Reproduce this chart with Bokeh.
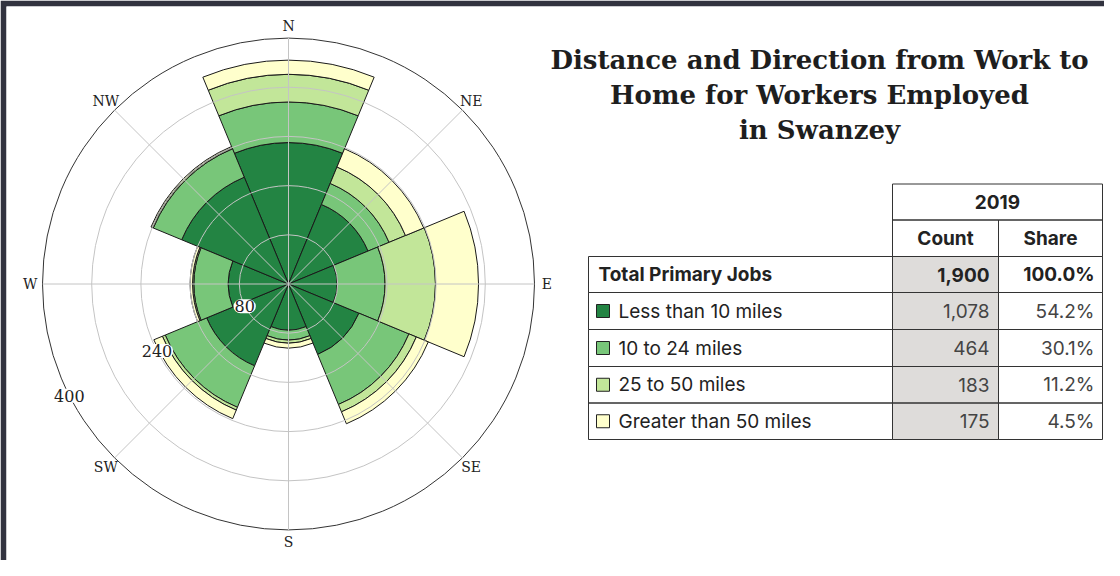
import numpy as np
from bokeh.plotting import figure
from bokeh.models import ColumnDataSource, Range1d
from bokeh.embed import file_html
from bokeh.resources import INLINE
from bokeh.core.properties import value

# ---------------- data ----------------
directions = ["N", "NE", "E", "SE", "S", "SW", "W", "NW"]
bearings = [0, 45, 90, 135, 180, 225, 270, 315]
categories = ["Less than 10 miles", "10 to 24 miles", "25 to 50 miles", "Greater than 50 miles"]
less_than_10 = [230, 140, 79, 124, 75, 144, 98, 188]
from_10_to_24 = [66, 37, 78, 88, 16, 73, 56, 50]
from_25_to_50 = [45, 29, 82, 13, 5, 5, 2, 2]
over_50 = [23, 32, 70, 21, 8, 15, 4, 2]
colors = ["#238443", "#78c679", "#c2e699", "#ffffcc"]
radial_grid = [80, 160, 240, 320]
radial_max = 400
radial_label_values = [80, 240, 400]
table_year = "2019"
table_headers = ["Count", "Share"]
total_label = "Total Primary Jobs"
total_count = "1,900"
total_share = "100.0%"
table_counts = ["1,078", "464", "183", "175"]
table_shares = ["54.2%", "30.1%", "11.2%", "4.5%"]
title_lines = ["Distance and Direction from Work to", "Home for Workers Employed", "in Swanzey"]

# ---------------- layout ----------------
W, H = 1104, 560
BL, BT = 6, 6
K = 0.615                 # px per data unit
CX, CY = 296.0, 291.5     # page position of polar centre
FX0, FY0 = 8 + BL, 8 + BT
FW, FH = W - BL, H - BT
x0 = -(CX - FX0) / K
y1 = (CY - FY0) / K

def X(px):
    return (px - CX) / K

def Y(py):
    return (CY - py) / K

p = figure(width=W, height=H, output_backend="svg", toolbar_location=None,
           x_range=Range1d(x0, x0 + FW / K), y_range=Range1d(y1 - FH / K, y1),
           x_axis_location=None, y_axis_location=None,
           min_border_left=BL, min_border_top=BT, min_border_right=0, min_border_bottom=0)
p.xgrid.visible = False
p.ygrid.visible = False
p.outline_line_color = None
p.border_fill_color = "#32333f"
p.background_fill_color = "white"

# ---------------- polar stacked bars ----------------
stack = np.array([less_than_10, from_10_to_24, from_25_to_50, over_50], dtype=float)
cum = np.cumsum(stack, axis=0)
b = np.radians(90 - np.array(bearings, dtype=float))
start = b - np.radians(22.5)
end = b + np.radians(22.5)
for i in range(len(categories)):
    src = ColumnDataSource(dict(x=np.zeros(8), y=np.zeros(8), inner=cum[i] - stack[i], outer=cum[i],
                                start=start, end=end))
    p.annular_wedge(x="x", y="y", inner_radius="inner", outer_radius="outer",
                    start_angle="start", end_angle="end", source=src,
                    fill_color=colors[i], line_color="#1a1a1a", line_width=1)

# grid
p.circle(x=[0] * len(radial_grid), y=[0] * len(radial_grid), radius=radial_grid,
         fill_color=None, line_color="#c4c4c4", line_width=1)
p.circle(x=[0], y=[0], radius=[radial_max], fill_color=None, line_color="#333333", line_width=1)
p.segment(x0=np.zeros(8), y0=np.zeros(8), x1=radial_max * np.cos(b), y1=radial_max * np.sin(b),
          line_color="#c4c4c4", line_width=1)

# compass labels
p.text(x=420 * np.cos(b), y=420 * np.sin(b), text=directions, text_align="center",
       text_baseline="middle", text_font=value("DejaVu Serif"), text_font_size="14px",
       text_color="#222222")

# radial labels
ang = np.radians(180 + 27)
rl = np.array(radial_label_values, dtype=float)
p.text(x=rl * np.cos(ang), y=rl * np.sin(ang), text=[str(v) for v in radial_label_values],
       text_align="center", text_baseline="middle", text_font=value("DejaVu Serif"),
       text_font_size="16px", text_color="#222222",
       background_fill_color="white", background_fill_alpha=1.0, padding=1, border_radius=7)

# ---------------- title ----------------
p.text(x=[X(827)] * 3, y=[Y(67), Y(102), Y(137)], text=title_lines, text_align="center",
       text_baseline="middle", text_font=value("DejaVu Serif"), text_font_size="26px",
       text_font_style="bold", text_color="#1e1e1e")

# ---------------- table ----------------
L, C1, C2, R = 596, 900, 1006, 1110
ys = [191.5, 227.5, 264, 300, 337, 374, 410.5, 447]
line_c = "#333333"
# shaded count column
p.quad(left=[X(C1)], right=[X(C2)], top=[Y(ys[2])], bottom=[Y(ys[7])],
       fill_color="#dedcda", line_color=None)
# header cells
p.quad(left=[X(C1)], right=[X(R)], top=[Y(ys[0])], bottom=[Y(ys[1])], fill_color=None, line_color=line_c)
p.quad(left=[X(C1), X(C2)], right=[X(C2), X(R)], top=[Y(ys[1])] * 2, bottom=[Y(ys[2])] * 2,
       fill_color=None, line_color=line_c)
# body cells
lefts, rights, tops, bottoms = [], [], [], []
for r in range(5):
    for a, c in [(L, C1), (C1, C2), (C2, R)]:
        lefts.append(X(a)); rights.append(X(c)); tops.append(Y(ys[2 + r])); bottoms.append(Y(ys[3 + r]))
p.quad(left=lefts, right=rights, top=tops, bottom=bottoms, fill_color=None, line_color=line_c)

TF = value("Inter")
p.text(x=[X((C1 + R) / 2)], y=[Y((ys[0] + ys[1]) / 2)], text=[table_year], text_align="center",
       text_baseline="middle", text_font=TF, text_font_size="19px", text_font_style="bold",
       text_color="#222222")
p.text(x=[X((C1 + C2) / 2), X((C2 + R) / 2)], y=[Y((ys[1] + ys[2]) / 2)] * 2, text=table_headers,
       text_align="center", text_baseline="middle", text_font=TF, text_font_size="19px",
       text_font_style="bold", text_color="#222222")
ty = Y((ys[2] + ys[3]) / 2)
p.text(x=[X(606)], y=[ty], text=[total_label], text_align="left", text_baseline="middle",
       text_font=TF, text_font_size="19px", text_font_style="bold", text_color="#222222")
p.text(x=[X(C2 - 9), X(R - 8)], y=[ty, ty], text=[total_count, total_share], text_align="right",
       text_baseline="middle", text_font=TF, text_font_size="19px", text_font_style="bold",
       text_color="#222222")

row_mid = [(ys[3 + i] + ys[4 + i]) / 2 for i in range(4)]
row_y = [Y(m) for m in row_mid]
sq = 13
p.quad(left=[X(604)] * 4, right=[X(604 + sq)] * 4, top=[Y(m - sq / 2) for m in row_mid],
       bottom=[Y(m + sq / 2) for m in row_mid], fill_color=colors, line_color="#222222", line_width=1)
p.text(x=[X(626)] * 4, y=row_y, text=categories, text_align="left", text_baseline="middle",
       text_font=TF, text_font_size="19px", text_color="#222222")
p.text(x=[X(C2 - 9)] * 4, y=row_y, text=table_counts, text_align="right", text_baseline="middle",
       text_font=TF, text_font_size="19px", text_color="#444444")
p.text(x=[X(R - 8)] * 4, y=row_y, text=table_shares, text_align="right", text_baseline="middle",
       text_font=TF, text_font_size="19px", text_color="#444444")

open("out.html", "w").write(file_html(p, INLINE))
